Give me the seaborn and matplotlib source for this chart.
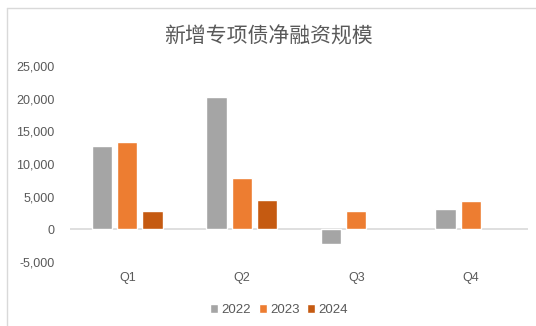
import matplotlib
matplotlib.use("Agg")
import matplotlib.pyplot as plt
import seaborn as sns
import pandas as pd
from matplotlib.lines import Line2D
from matplotlib.ticker import FuncFormatter

quarters = ["Q1", "Q2", "Q3", "Q4"]
years = ["2022", "2023", "2024"]
v2022 = [12700, 20300, -2300, 3100]
v2023 = [13380, 7850, 2820, 4350]
v2024 = [2860, 4500, None, None]
colors = ["#A5A5A5", "#ED7D31", "#C55A11"]
title = "新增专项债净融资规模"

rows = []
for y, vals in zip(years, [v2022, v2023, v2024]):
    for q, v in zip(quarters, vals):
        rows.append({"quarter": q, "year": y, "value": v})
df = pd.DataFrame(rows)

sns.set_theme(style="white")
plt.rcParams['font.family'] = ['Liberation Sans', 'Noto Sans CJK SC', 'DejaVu Sans']

fig = plt.figure(figsize=(5.36, 3.26), dpi=100)
ax = fig.add_axes([70/536, 64/326, 458/536, 196/326])

sns.barplot(data=df, x="quarter", y="value", hue="year", order=quarters,
            hue_order=years, palette=colors, width=0.66, gap=0.2,
            saturation=1, ax=ax, legend=True, errorbar=None)

ax.set_ylim(-5000, 25000)
ax.set_xlim(-0.5, 3.5)
ax.set_yticks(range(-5000, 25001, 5000))
ax.yaxis.set_major_formatter(FuncFormatter(lambda v, p: f"{int(v):,}"))
ax.set_xlabel("")
ax.set_ylabel("")
for s in ax.spines.values():
    s.set_visible(False)
ax.axhline(0, color="#D9D9D9", lw=1.2, zorder=0.5)
ax.tick_params(axis="both", length=0, labelsize=9, labelcolor="#595959")
ax.tick_params(axis="y", pad=11)
ax.tick_params(axis="x", pad=7)

fig.text(0.5, 1 - 37/326, title, ha="center", va="center", fontsize=15,
         color="#595959", family=['Noto Sans CJK SC', 'DejaVu Sans'])

handles, labels = ax.get_legend_handles_labels()
ax.legend_.remove()
fig.legend(handles, labels, loc="center", bbox_to_anchor=(279/536, 1 - 310/326),
           ncol=3, frameon=False, fontsize=9.5, labelcolor="#595959",
           handlelength=0.6, handleheight=0.6, handletextpad=0.25,
           columnspacing=0.6)

fig.add_artist(Line2D([7/536, 7/536], [0, 1 - 8/326], transform=fig.transFigure,
                      color="#D9D9D9", lw=1))
fig.add_artist(Line2D([7/536, 1], [1 - 8/326, 1 - 8/326], transform=fig.transFigure,
                      color="#D9D9D9", lw=1))

fig.savefig("out.png", dpi=100)
